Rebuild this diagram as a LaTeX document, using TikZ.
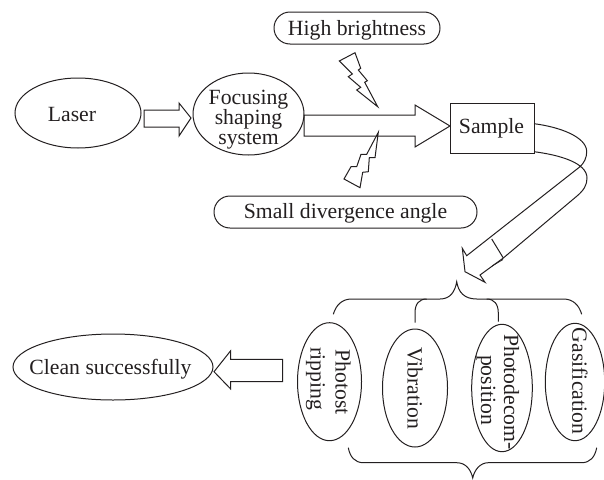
\documentclass[tikz,border=0pt]{standalone}
\usepackage{fontspec}
\setmainfont{Liberation Serif}
\usetikzlibrary{shapes.geometric}
\definecolor{ink}{HTML}{231F20}
\tikzset{
  base/.style={draw=ink,line width=1pt,line join=miter},
  oval/.style={base,ellipse,inner sep=0pt,minimum width=#1},
  pill/.style={base,rectangle,rounded corners=16pt,inner sep=0pt,minimum height=32pt},
  lbl/.style={text=ink,font=\lbl,inner sep=0pt,align=center},
  vlbl/.style={lbl,rotate=-90},
  blockarrow/.style={base,fill=white},
  bolt/.style={base},
  bracket/.style={draw=ink,line width=1pt}
}
\newcommand{\lbl}{\fontsize{21.7}{20}\selectfont}
\begin{document}
\begin{tikzpicture}[x=1pt,y=-1pt]
\useasboundingbox (0,0) rectangle (604,479);
% block arrows
\draw[blockarrow] (144,110) -- (179,110) -- (179,103) -- (191,118) -- (179,136) -- (179,127) -- (144,127) -- cycle;
\draw[blockarrow] (304,115) -- (415,115) -- (415,105) -- (450,126) -- (415,147) -- (415,136) -- (304,136) -- cycle;
\draw[blockarrow] (282.7,359.3) -- (230.7,359.3) -- (230.7,350.7) -- (214,371.7) -- (230.7,389) -- (230.7,381.7) -- (282.7,381.7) -- cycle;
% nodes
\node[oval=126pt,minimum height=70pt] (laser) at (78,113) {};
\node[lbl] at (72,114) {Laser};
\node[oval=111pt,minimum height=82pt] (focus) at (248.5,114) {};
\node[lbl] at (248.5,119.5) {Focusing\\shaping\\system};
\node[base,rectangle,minimum width=84pt,minimum height=50pt,inner sep=0pt] (sample) at (492,128.5) {};
\node[lbl] at (491.5,128.5) {Sample};
\node[pill,minimum width=166pt] (bright) at (357,28) {};
\node[lbl] at (357,30) {High brightness};
\node[pill,minimum width=263pt] (diverge) at (345.5,212) {};
\node[lbl] at (345.5,213) {Small divergence angle};
\node[oval=200pt,minimum height=66pt] (clean) at (113,367) {};
\node[lbl] at (110.5,369) {Clean successfully};
\node[oval=64pt,minimum height=118pt] (strip) at (329.5,381.7) {};
\node[oval=65pt,minimum height=118pt] (vib) at (415,388) {};
\node[oval=60.6pt,minimum height=127.4pt] (decomp) at (502,388) {};
\node[oval=59.4pt,minimum height=117.4pt] (gas) at (575,382) {};
\node[vlbl] at (343,382) {Photost};
\node[vlbl] at (315.5,379) {ripping};
\node[vlbl] at (415,388) {Vibration};
\node[vlbl] at (511.5,392) {Photodecom-};
\node[vlbl] at (486,390) {position};
\node[vlbl] at (580,381) {Gasification};
% lightning bolts
\draw[bolt] (339.3,61) -- (355,52.7) -- (360.7,68.3) -- (358.3,70) -- (367.3,80.7) -- (364.7,82.3) -- (377.7,106.7) -- (356.7,90) -- (360.7,87.3) -- (348.3,76.7) -- (352.3,74) -- cycle;
\draw[bolt] (378.3,132.3) -- (375,157.7) -- (369.3,157.7) -- (368.3,171.7) -- (362.7,172.3) -- (360,187.7) -- (344,179) -- (351,166.7) -- (356.7,166.7) -- (361,154.3) -- (366.7,154.3) -- cycle;
% curved arrow from the sample
\draw[base] (534,123.7) .. controls (560,127) and (586.7,137) .. (586.7,151.7)
  .. controls (586.7,158) and (584,163) .. (580,166.7) -- (466.7,255.7) -- (462.3,248.3) -- (465,271.7) -- (485,282.3) -- (480,275) -- (503.3,258)
  -- (577,196) .. controls (584,190) and (587,185) .. (587,178) .. controls (587,163) and (560,155) .. (534,151.7);
\draw[base] (491.7,239) -- (503.3,258);
\draw[base,line width=.8pt] (492,266) -- (503,259.5);
% upper brace
\draw[bracket] (333.3,314.3) .. controls (336,305) and (342,299) .. (351.7,299) -- (440,299) .. controls (450,299) and (455,292) .. (456.7,281.7)
  .. controls (458.4,292) and (464,299) .. (476.7,299) -- (563.3,299) .. controls (573,299) and (579,305) .. (581.7,314.3);
\draw[bracket] (415,322.7) -- (415,313) .. controls (415,304) and (419,299) .. (426.7,299);
\draw[bracket] (498.3,321.7) -- (498.3,313) .. controls (498.3,304) and (494,299) .. (486.7,299);
% lower brace
\draw[bracket] (348.3,447.7) .. controls (350,457) and (355,462.7) .. (363.3,462.7) -- (456.7,462.7) .. controls (466,462.7) and (471,470) .. (472.7,478)
  .. controls (474.4,470) and (480,462.7) .. (488.3,462.7) -- (581.7,462.7) .. controls (590,462.7) and (595,457) .. (596.7,447.7);
\end{tikzpicture}
\end{document}
